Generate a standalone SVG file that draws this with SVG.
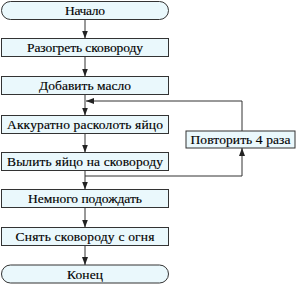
<svg xmlns="http://www.w3.org/2000/svg" width="300" height="284" viewBox="0 0 300 284">
<style>
.b{fill:#eaf8fc;stroke:#333;stroke-width:1}
.t{font-size:13.5px;fill:#000;stroke:#000;stroke-width:0.15;text-anchor:middle}
.c{fill:none;stroke:#333;stroke-width:1}
</style>
<defs>
<marker id="a" viewBox="0 0 8 6" refX="8" refY="3" markerWidth="8" markerHeight="6" markerUnits="userSpaceOnUse" orient="auto">
<path d="M0,0 L8,3 L0,6 Z" fill="#222"/>
</marker>
</defs>
<rect width="300" height="284" fill="#fff"/>
<g id="connectors">
<path class="c" d="M85,19.5 V38.5" marker-end="url(#a)"/>
<path class="c" d="M85,56.5 V76.5" marker-end="url(#a)"/>
<path class="c" d="M85,94.5 V115.5" marker-end="url(#a)"/>
<path class="c" d="M85,133.5 V152.5" marker-end="url(#a)"/>
<path class="c" d="M85,170.5 V189.5" marker-end="url(#a)"/>
<path class="c" d="M85,207.5 V227.5" marker-end="url(#a)"/>
<path class="c" d="M85,245.5 V265" marker-end="url(#a)"/>
<path class="c" d="M85,176 H242 V148" marker-end="url(#a)"/>
<path class="c" d="M242,131 V101 H86" marker-end="url(#a)"/>
</g>
<g font-family="Liberation Serif, Times New Roman, serif">
<g id="n1"><rect class="b" x="1.5" y="1.5" width="167" height="18" rx="9"/><text class="t" x="85" y="15" textLength="40" lengthAdjust="spacing">Начало</text></g>
<g id="n2"><rect class="b" x="1.5" y="38.5" width="167" height="18"/><text class="t" x="85" y="52" textLength="116" lengthAdjust="spacing">Разогреть сковороду</text></g>
<g id="n3"><rect class="b" x="1.5" y="76.5" width="167" height="18"/><text class="t" x="85" y="90" textLength="92" lengthAdjust="spacing">Добавить масло</text></g>
<g id="n4"><rect class="b" x="1.5" y="115.5" width="167" height="18"/><text class="t" x="85" y="129" textLength="156" lengthAdjust="spacing">Аккуратно расколоть яйцо</text></g>
<g id="n5"><rect class="b" x="1.5" y="152.5" width="167" height="18"/><text class="t" x="85" y="166" textLength="156" lengthAdjust="spacing">Вылить яйцо на сковороду</text></g>
<g id="n6"><rect class="b" x="1.5" y="189.5" width="167" height="18"/><text class="t" x="85" y="203" textLength="114" lengthAdjust="spacing">Немного подождать</text></g>
<g id="n7"><rect class="b" x="1.5" y="227.5" width="167" height="18"/><text class="t" x="85" y="241" textLength="139" lengthAdjust="spacing">Снять сковороду с огня</text></g>
<g id="n8"><rect class="b" x="1.5" y="265" width="167" height="18" rx="9"/><text class="t" x="85" y="278.5" textLength="36" lengthAdjust="spacing">Конец</text></g>
<g id="n9"><rect class="b" x="186" y="131" width="109" height="17"/><text class="t" x="240.5" y="144" textLength="100" lengthAdjust="spacing">Повторить 4 раза</text></g>
</g>
</svg>
